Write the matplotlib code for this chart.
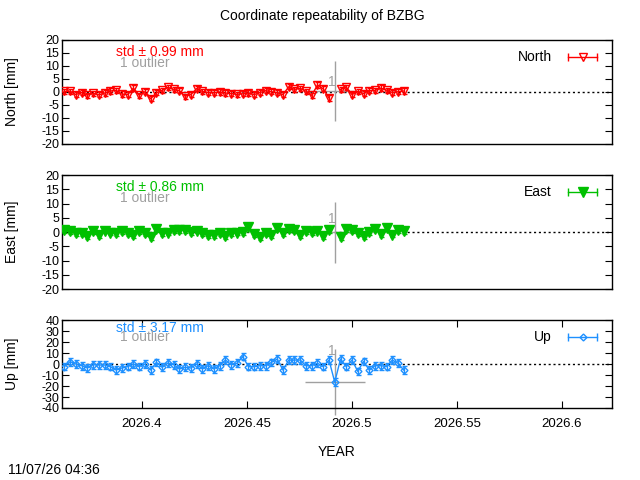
import numpy as np
import matplotlib.pyplot as plt
from matplotlib.lines import Line2D
from matplotlib.legend_handler import HandlerLine2D, HandlerTuple
from matplotlib.ticker import MultipleLocator, FuncFormatter

plt.rcParams['font.family'] = ['Liberation Sans', 'DejaVu Sans']
plt.rcParams['font.size'] = 10

# Daily solutions (day of year 2026), outlier day removed from N/E
doy = np.array(list(range(133, 193)))
north = [0.2, 0.3, -1.0, -0.2, -1.2, -0.5, -1.1, -0.4, 0.4, 0.6,
         -0.8, -1.0, 1.5, -1.2, 0.1, -2.6, -0.3, 0.6, 1.8, 1.0,
         0.5, -1.6, -1.0, 1.3, 0.2, -0.2, -0.3, 0.0, -0.4, -0.6,
         -0.9, -0.7, -0.4, -1.0, -0.2, 0.5, 0.1, -0.3, -1.0, 2.0,
         1.0, 1.4, 0.3, -1.3, 2.7, 1.2, -2.3, np.nan, 1.0, 1.8,
         -1.0, 0.2, -0.6, 0.5, 0.6, 1.5, 0.7, -0.2, 0.1, 0.4]
east = [0.6, 0.2, -0.3, -0.5, -1.4, 0.3, -1.0, 0.5, -0.2, -0.3,
        0.2, -0.4, -1.0, 0.3, -0.5, -1.7, 1.0, -0.3, -0.2, 0.6,
        0.6, 0.7, 0.1, 0.5, -0.3, -1.1, -1.2, -0.4, -1.4, -0.5,
        -0.2, 0.1, 1.9, -0.8, -1.8, -0.3, -1.0, 1.5, -0.5, 0.9,
        0.6, -1.0, 0.2, 0.1, 0.5, -1.4, 0.6, np.nan, -1.9, 0.9,
        0.8, -0.3, -1.4, -0.1, 1.2, -0.8, 1.3, -0.9, 0.8, 0.2]
up = [-2.4, 2.1, 0.0, -1.5, -3.6, -0.6, -0.9, -0.9, -2.4, -5.4,
      -3.6, -2.4, 0.0, -2.4, 0.0, -5.4, 1.5, -3.0, 0.9, -0.6,
      -4.5, -3.0, -3.6, 0.0, -4.5, -1.5, -4.5, -1.5, 3.6, -0.6,
      0.6, 6.7, -2.4, -2.4, -1.5, -1.5, 1.5, 4.5, -5.5, 3.6,
      3.6, 3.6, -1.5, -1.5, 0.6, -2.4, 3.6, -16.5, 4.5, -2.4,
      3.6, -6.7, 2.4, -5.5, -1.5, -1.5, -2.4, 3.6, 0.6, -5.5]
sig_n, sig_e, sig_u = 1.0, 1.0, 3.5
std_vals = [0.99, 0.86, 3.17]

# the single rejected epoch
out_doy = 180
out_vals = [0.5, 0.0, -16.5]
out_sig = [11.5, 10.7, 30.0]
out_sig_t = 0.0143
out_lab = [4.0, 4.5, 12.0]

t = 2026 + (doy - 0.5) / 365
t_out = 2026 + (out_doy - 0.5) / 365

fig = plt.figure(figsize=(6.4, 4.8), dpi=100)
boxes = [(0.7, 0.9167), (0.3979, 0.6354), (0.15, 0.3333)]
left, right = 62 / 640, 612 / 640

panels = [
    ("North", north, sig_n, "#ff0000", "v", "none", 20, 5, 5.5),
    ("East", east, sig_e, "#00c000", "v", "#00c000", 20, 5, 6.5),
    ("Up", up, sig_u, "#1e90ff", "D", "none", 40, 10, 3.5),
]
gray = "#a0a0a0"

for k, (name, vals, sig, col, mk, mfc, lim, step, ms) in enumerate(panels):
    b, tp = boxes[k]
    ax = fig.add_axes([left, b, right - left, tp - b])
    ax.axhline(0, color="black", ls=(0, (1.5, 2)), lw=1, zorder=1)

    # rejected epoch with its large error bars
    ax.errorbar([t_out], [out_vals[k]], xerr=out_sig_t, yerr=out_sig[k],
                fmt="none", ecolor=gray, elinewidth=1, capsize=0, zorder=2,
                clip_on=(k != 2))
    ax.annotate("1", xy=(t_out, out_lab[k]), xytext=(-3, 0),
                textcoords="offset pixels", ha="center", va="center",
                color=gray, fontsize=10)

    ax.errorbar(t, vals, yerr=sig, fmt="-", color=col, marker=mk, mfc=mfc,
                mec=col, ms=ms, mew=1, lw=1, elinewidth=1, capsize=1.8,
                zorder=3)

    ax.set_xlim(2026.3619, 2026.6238)
    ax.set_ylim(-lim, lim)
    ax.yaxis.set_major_locator(MultipleLocator(step))
    ax.yaxis.set_major_formatter(FuncFormatter(lambda v, p: f"{v:g}"))
    ax.set_xticks([2026.4, 2026.45, 2026.5, 2026.55, 2026.6])
    ax.xaxis.set_major_formatter(FuncFormatter(lambda v, p: f"{v:g}"))
    if k < 2:
        ax.tick_params(axis="x", bottom=False, labelbottom=False)
    else:
        ax.tick_params(axis="x", top=True, direction="in", length=5, pad=7,
                       labelsize=9.5)
        ax.set_xlabel("YEAR", labelpad=11)
    ax.tick_params(axis="y", left=True, right=True, direction="in",
                   length=5, pad=2, labelsize=9)
    for s in ax.spines.values():
        s.set_linewidth(1)

    ax.set_ylabel(f"{name} [mm]")
    ax.yaxis.set_label_coords(-0.078, 0.5)

    top_off = [11.7, 11.7, 8.3][k]
    out_off = [22.7, 23.3, 17.3][k]
    ax.annotate(f"std \u00b1 {std_vals[k]:.2f} mm", xy=(0.098, 1),
                xycoords="axes fraction", xytext=(0, -top_off),
                textcoords="offset pixels", va="center", color=col)
    ax.annotate("1 outlier", xy=(0.105, 1), xycoords="axes fraction",
                xytext=(0, -out_off), textcoords="offset pixels",
                va="center", color=gray)

    bar = Line2D([], [], color=col, lw=1, marker="|", ms=6, mew=1)
    sym = Line2D([], [], color=col, ls="none", marker=mk, mfc=mfc, mec=col,
                 ms=ms, mew=1)
    ax.legend([(bar, sym)], [name], loc="upper right", frameon=False,
              markerfirst=False, handlelength=2.7, borderaxespad=0.35,
              handletextpad=0.9,
              handler_map={bar: HandlerLine2D(numpoints=2),
                           sym: HandlerLine2D(numpoints=1),
                           tuple: HandlerTuple(ndivide=1)})

fig.text(0.503, 1 - 16 / 480, "Coordinate repeatability of BZBG",
         ha="center", va="center")
fig.text(8 / 640, 1 - 470 / 480, "11/07/26 04:36", ha="left", va="center")

fig.savefig("out.png", dpi=100)
